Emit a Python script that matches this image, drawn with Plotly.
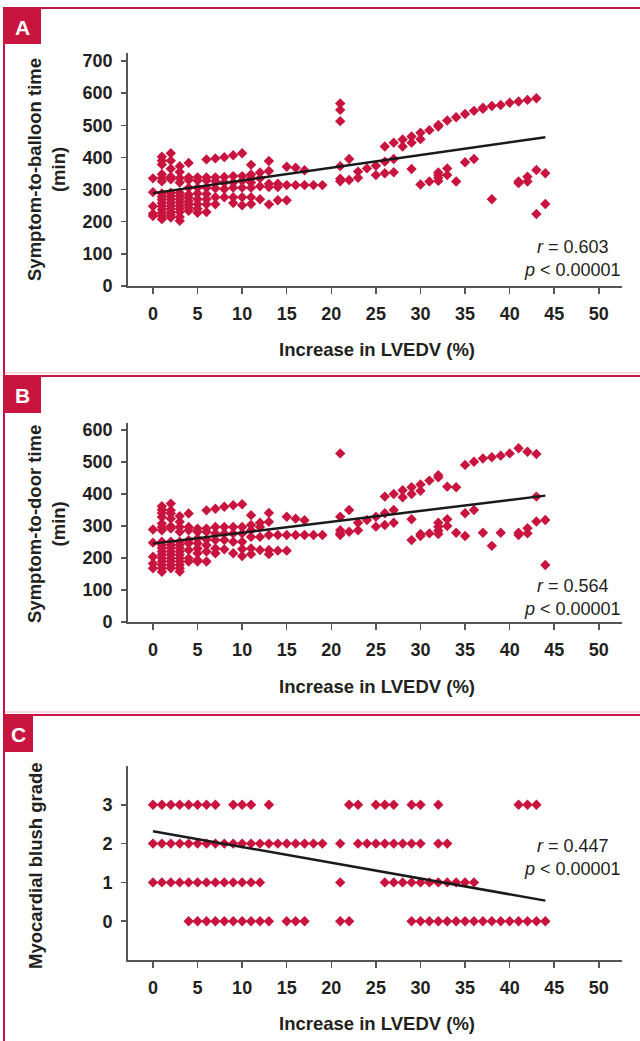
import plotly.graph_objects as go

# ---------------- DATA ----------------
# Panel A: symptom-to-balloon time (min) by increase in LVEDV (%)
a_cols = {
    0: [335, 292, 248, 225, 218],
    1: [402, 390, 378, 348, 336, 326, 288, 278, 268, 258, 248, 238, 228, 218, 208],
    2: [413, 390, 365, 340, 332, 290, 280, 270, 260, 250, 240, 230, 222, 213],
    3: [373, 355, 336, 322, 290, 280, 270, 260, 250, 240, 230, 215, 203],
    4: [383, 338, 330, 306, 285, 275, 264, 254, 244, 234],
    5: [338, 328, 306, 288, 270, 254, 240, 228],
    6: [394, 338, 328, 306, 286, 270, 254, 230],
    7: [397, 338, 326, 304, 276, 254],
    8: [401, 339, 322, 302, 276],
    9: [407, 342, 322, 306, 276, 258],
    10: [413, 342, 327, 306, 276, 251],
    11: [377, 347, 336, 322, 306, 276, 255],
    12: [353, 335, 310, 270],
    13: [389, 358, 318, 308, 254],
    14: [318, 308, 267],
    15: [371, 314, 267],
    16: [368, 314],
    17: [360, 314],
    18: [314],
    19: [314],
    21: [568, 548, 513, 373, 334, 326],
    22: [395, 330],
    23: [356, 337],
    24: [366],
    25: [374, 345],
    26: [434, 387, 351],
    27: [446, 395, 354],
    28: [456, 434],
    29: [465, 446, 364],
    30: [477, 457, 316],
    31: [485, 325],
    32: [501, 496, 353, 345, 337, 327],
    33: [515, 366, 345],
    34: [525, 325],
    35: [535, 385],
    36: [545, 395],
    37: [555, 551],
    38: [560, 270],
    39: [563],
    40: [570],
    41: [574, 325, 320],
    42: [579, 340, 325],
    43: [584, 361, 224],
    44: [351, 255],
}

# Panel B: symptom-to-door time (min)
b_cols = {
    0: [289, 248, 204, 183, 168],
    1: [362, 351, 341, 328, 308, 297, 287, 251, 241, 231, 220, 210, 199, 189, 178, 168, 157],
    2: [370, 349, 339, 323, 299, 292, 251, 241, 231, 220, 210, 199, 189, 178, 168],
    3: [331, 313, 297, 282, 251, 241, 231, 220, 210, 199, 189, 178, 168, 158],
    4: [339, 297, 287, 256, 246, 225, 199, 189],
    5: [292, 282, 261, 246, 230, 215, 194, 189],
    6: [349, 292, 282, 258, 240, 220, 189],
    7: [354, 297, 277, 256, 230, 215],
    8: [360, 297, 277, 256, 227],
    9: [365, 297, 277, 251, 215],
    10: [368, 297, 277, 251, 228, 206],
    11: [334, 303, 287, 266, 230, 212],
    12: [310, 297, 266, 225],
    13: [341, 313, 272, 225, 212],
    14: [272, 223],
    15: [329, 272, 223],
    16: [323, 272],
    17: [318, 272],
    18: [272],
    19: [272],
    21: [527, 329, 287, 277, 272],
    22: [350, 282],
    23: [310, 287],
    24: [319],
    25: [329, 298],
    26: [392, 340, 303],
    27: [400, 350, 310],
    28: [412, 390],
    29: [421, 400, 321, 256],
    30: [430, 410, 275, 269],
    31: [442, 277],
    32: [459, 452, 310, 298, 285, 275],
    33: [423, 321, 300],
    34: [421, 279],
    35: [491, 340, 269],
    36: [501, 350],
    37: [511, 279],
    38: [515, 238],
    39: [520, 279],
    40: [527],
    41: [543, 279, 272],
    42: [532, 293, 277],
    43: [525, 392, 314],
    44: [319, 178],
}

# Panel C: myocardial blush grade -> LVEDV increase values (%)
c_grade3 = [0, 1, 2, 3, 4, 5, 6, 7, 9, 10, 11, 13, 22, 23, 25, 26, 27, 29, 30, 32, 41, 42, 43]
c_grade2 = list(range(0, 20)) + [21] + list(range(23, 31)) + [32, 33]
c_grade1 = list(range(0, 13)) + [21] + list(range(26, 37))
c_grade0 = list(range(4, 14)) + [15, 16, 17, 21, 22] + list(range(29, 45))

# regression lines (endpoints)
trend_x = [0, 44]
trend_a = [289, 463]
trend_b = [245, 395]
trend_c = [2.32, 0.53]

stats_a = ("0.603", "0.00001")
stats_b = ("0.564", "0.00001")
stats_c = ("0.447", "0.00001")

x_ticks = [0, 5, 10, 15, 20, 25, 30, 35, 40, 45, 50]

# ---------------- STYLE ----------------
W, H = 640, 1041
RED = "#c8143f"
AXC = "#555555"
TXT = "#231f20"
FONT = "Liberation Sans"


def py(pix):
    return 1 - pix / H


def px(pix):
    return pix / W


def flatten(cols):
    xs, ys = [], []
    for k, vals in cols.items():
        for v in vals:
            xs.append(k)
            ys.append(v)
    return xs, ys


fig = go.Figure()

mk = dict(symbol="diamond", size=8, color=RED, line=dict(width=0))

ax, ay = flatten(a_cols)
bx, by = flatten(b_cols)
cx = c_grade3 + c_grade2 + c_grade1 + c_grade0
cy = [3] * len(c_grade3) + [2] * len(c_grade2) + [1] * len(c_grade1) + [0] * len(c_grade0)

fig.add_trace(go.Scatter(x=ax, y=ay, mode="markers", marker=mk, xaxis="x", yaxis="y", showlegend=False))
fig.add_trace(go.Scatter(x=trend_x, y=trend_a, mode="lines", line=dict(color="#1a1a1a", width=2.5),
                         xaxis="x", yaxis="y", showlegend=False))
fig.add_trace(go.Scatter(x=bx, y=by, mode="markers", marker=mk, xaxis="x2", yaxis="y2", showlegend=False))
fig.add_trace(go.Scatter(x=trend_x, y=trend_b, mode="lines", line=dict(color="#1a1a1a", width=2.5),
                         xaxis="x2", yaxis="y2", showlegend=False))
fig.add_trace(go.Scatter(x=cx, y=cy, mode="markers", marker=mk, xaxis="x3", yaxis="y3", showlegend=False))
fig.add_trace(go.Scatter(x=trend_x, y=trend_c, mode="lines", line=dict(color="#1a1a1a", width=2.5),
                         xaxis="x3", yaxis="y3", showlegend=False))

tickfont = dict(family=FONT, size=18, color=TXT, weight="bold")
xdom = [px(128), px(622)]
xrange = [-2.8, 52.6]


def xaxis(anchor):
    return dict(domain=xdom, range=xrange, anchor=anchor, tickvals=x_ticks,
                showline=True, linecolor=AXC, linewidth=1.8, ticks="outside",
                ticklen=6, tickwidth=1.5, tickcolor=AXC, showgrid=False, zeroline=False,
                tickfont=tickfont, ticklabelstandoff=5, fixedrange=True, automargin=False)


def yaxis(anchor, dom, rng, tv):
    return dict(domain=dom, range=rng, anchor=anchor, tickvals=tv,
                showline=True, linecolor=AXC, linewidth=1.8, ticks="outside",
                ticklen=5, tickwidth=1.5, tickcolor=AXC, showgrid=False, zeroline=False,
                tickfont=tickfont, ticklabelstandoff=5, fixedrange=True, automargin=False)


fig.update_layout(
    width=W, height=H,
    margin=dict(l=0, r=0, t=0, b=0, pad=0),
    paper_bgcolor="white", plot_bgcolor="white",
    hovermode=False,
    xaxis=xaxis("y"),
    yaxis=yaxis("x", [py(286), py(53)], [0, 725], [0, 100, 200, 300, 400, 500, 600, 700]),
    xaxis2=xaxis("y2"),
    yaxis2=yaxis("x2", [py(622), py(423)], [0, 622], [0, 100, 200, 300, 400, 500, 600]),
    xaxis3=xaxis("y3"),
    yaxis3=yaxis("x3", [py(960), py(766)], [-1, 4], [0, 1, 2, 3]),
)

ann = []
shapes = []
titlefont = dict(family=FONT, size=18.5, color=TXT, weight="bold")
statfont = dict(family=FONT, size=18, color=TXT)

# x-axis titles
for yc in (349, 686, 1023):
    ann.append(dict(x=px(377), y=py(yc), xref="paper", yref="paper", text="Increase in LVEDV (%)",
                    showarrow=False, font=titlefont, xanchor="center", yanchor="middle"))

# y-axis titles
ann.append(dict(x=px(46), y=py(170), xref="paper", yref="paper",
                text="Symptom-to-balloon time<br>(min)", textangle=-90, showarrow=False,
                font=titlefont, xanchor="center", yanchor="middle"))
ann.append(dict(x=px(46), y=py(524), xref="paper", yref="paper",
                text="Symptom-to-door time<br>(min)", textangle=-90, showarrow=False,
                font=titlefont, xanchor="center", yanchor="middle"))
ann.append(dict(x=px(35), y=py(866), xref="paper", yref="paper",
                text="Myocardial blush grade", textangle=-90, showarrow=False,
                font=titlefont, xanchor="center", yanchor="middle"))

# statistics
for (r, p), yc in ((stats_a, 258), (stats_b, 597), (stats_c, 857)):
    ann.append(dict(x=px(572), y=py(yc), xref="paper", yref="paper",
                    text=f"<i>r</i> = {r}<br><i>p</i> < {p}", showarrow=False, align="center",
                    font=statfont, xanchor="center", yanchor="middle"))

# frame lines
shapes.append(dict(type="line", xref="paper", yref="paper", x0=px(4), x1=1, y0=py(8), y1=py(8),
                   line=dict(color=RED, width=2)))
for yl in (376, 715):
    shapes.append(dict(type="line", xref="paper", yref="paper", x0=px(4), x1=1, y0=py(yl - 3), y1=py(yl - 3),
                       line=dict(color="#f0b8c6", width=1)))
    shapes.append(dict(type="line", xref="paper", yref="paper", x0=px(4), x1=1, y0=py(yl), y1=py(yl),
                       line=dict(color=RED, width=2)))
shapes.append(dict(type="line", xref="paper", yref="paper", x0=px(4), x1=px(4), y0=py(7), y1=0,
                   line=dict(color=RED, width=2)))

# panel letter boxes
for letter, x1, y0, y1 in (("A", 41, 8, 44), ("B", 41, 376, 413), ("C", 33, 715, 752)):
    shapes.append(dict(type="rect", xref="paper", yref="paper", x0=px(3), x1=px(x1),
                       y0=py(y1), y1=py(y0), fillcolor=RED, line=dict(width=0)))
    ann.append(dict(x=px((3 + x1) / 2), y=py((y0 + y1) / 2 + 1), xref="paper", yref="paper", text=letter,
                    showarrow=False, font=dict(family=FONT, size=21, color="white", weight="bold"),
                    xanchor="center", yanchor="middle"))

fig.update_layout(annotations=ann, shapes=shapes)
fig.write_html("out.html", config={"displayModeBar": False, "staticPlot": True},
               post_script="document.body.style.margin='0';document.body.style.padding='0';")
